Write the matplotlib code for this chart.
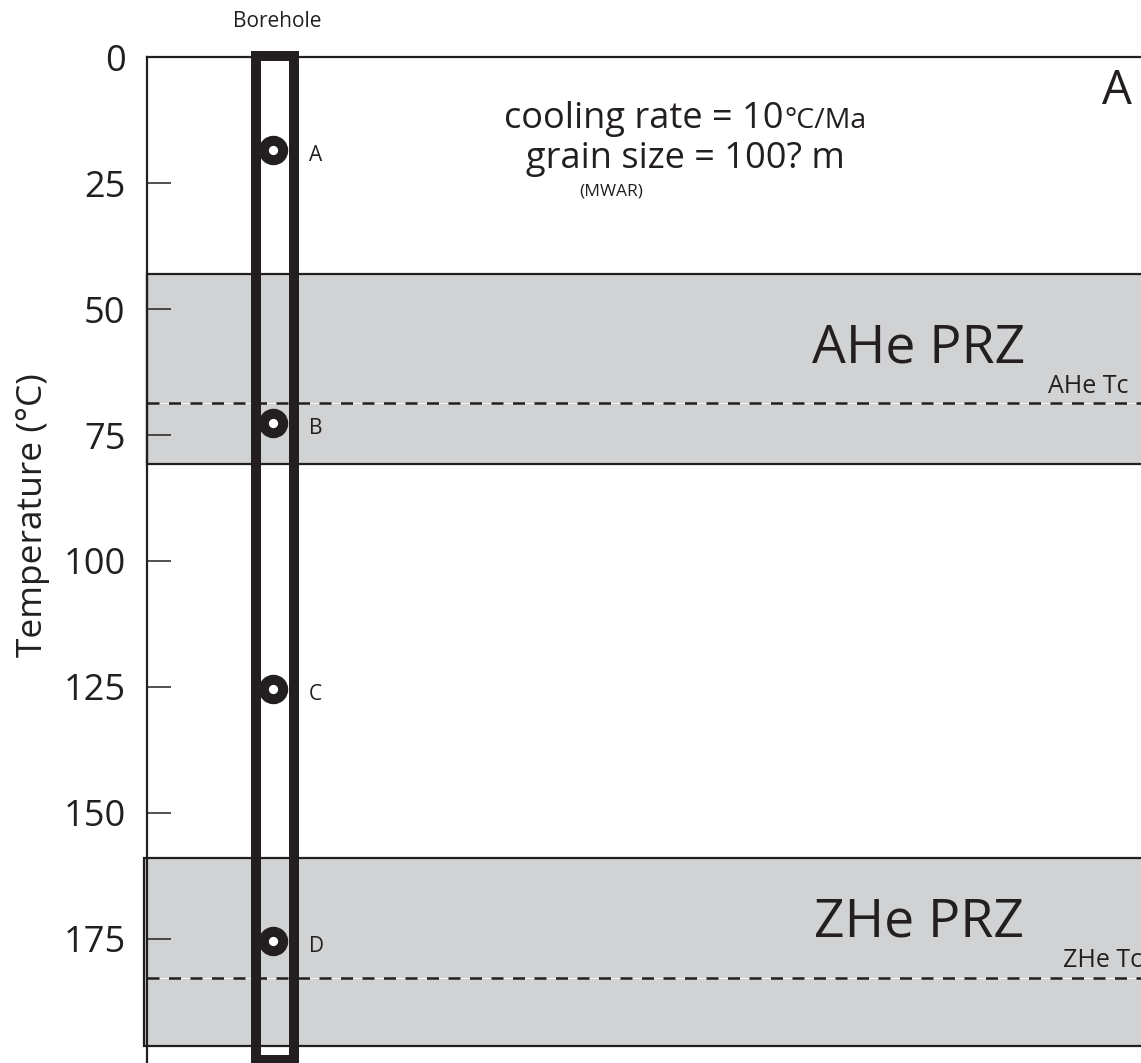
import matplotlib
matplotlib.use("Agg")
import matplotlib.pyplot as plt
from matplotlib.patches import Rectangle

plt.rcParams['font.family'] = ['Open Sans', 'DejaVu Sans']

# ---- data ----
tick_values = [0, 25, 50, 75, 100, 125, 150, 175]
sample_labels = ['A', 'B', 'C', 'D']
sample_temps = [18.4, 72.7, 125.4, 175.4]
zone_names = ['AHe PRZ', 'ZHe PRZ']
zone_top = [43.0, 159.0]
zone_bottom = [80.7, 196.3]
tc_temps = [68.6, 182.9]
tc_labels = ['AHe Tc', 'ZHe Tc']

INK = '#231f20'
GREY = '#d1d2d4'
W, H = 1141, 1063

fig = plt.figure(figsize=(W / 100, H / 100), dpi=100)
ax = fig.add_axes([147 / W, 0.0, (W - 147) / W, 1 - 57.3 / H])
ax.set_xlim(0, W - 147)
ax.set_ylim(199.7, 0)

# zones
for i, name in enumerate(zone_names):
    x0 = -3 if i == 1 else 0
    ax.add_patch(Rectangle((x0, zone_top[i]), 1200, zone_bottom[i] - zone_top[i],
                           facecolor=GREY, edgecolor=INK, lw=1.6, zorder=1, clip_on=False))
    ax.axhline(tc_temps[i], color='#f2f2f2', lw=0.8, zorder=1.9)
    ax.axhline(tc_temps[i], color=INK, lw=1.8, ls=(0, (4.8, 3.8)), zorder=2)

ax.text(772, 60.7, zone_names[0], fontsize=38.5, color=INK, ha='center', va='baseline', zorder=5)
ax.text(772, 174.5, zone_names[1], fontsize=38.5, color=INK, ha='center', va='baseline', zorder=5)
ax.text(901, 66.7, tc_labels[0], fontsize=18, color=INK, ha='left', va='baseline', zorder=5)
ax.text(916, 180.6, tc_labels[1], fontsize=18, color=INK, ha='left', va='baseline', zorder=5, clip_on=False)

# borehole
ax.add_patch(Rectangle((108.7, -0.26), 294 - 255.7, 199.4, facecolor='none',
                       edgecolor=INK, lw=7.2, zorder=3, clip_on=False, joinstyle='miter'))

# samples
ax.plot([125.7] * len(sample_temps), sample_temps, 'o', ms=14, mfc='white',
        mec=INK, mew=7.2, zorder=4, clip_on=False)
for lab, t in zip(sample_labels, sample_temps):
    ax.text(162, t + 1.1, lab, fontsize=15, color=INK, ha='left', va='center', zorder=5)

# axes styling
ax.set_yticks(tick_values)
ax.set_yticklabels([str(v) for v in tick_values])
ax.set_xticks([])
ax.tick_params(axis='y', direction='in', length=17, width=1.1, color=INK,
               labelsize=26, labelcolor=INK, pad=15.5)
for s in ['right', 'bottom']:
    ax.spines[s].set_visible(False)
for s in ['left', 'top']:
    ax.spines[s].set_color(INK)
    ax.spines[s].set_linewidth(1.6)
    ax.spines[s].set_zorder(2.5)

# annotations (figure coords from pixel positions)
def fx(x):
    return x / W

def fy(y):
    return 1 - y / H

fig.text(fx(33), fy(515), 'Temperature (°C)', rotation=90, fontsize=25.5, color=INK,
         ha='center', va='center')
fig.text(fx(277), fy(27), 'Borehole', fontsize=15, color=INK, ha='center', va='baseline')
fig.text(fx(783), fy(128), 'cooling rate = 10', fontsize=26, color=INK, ha='right', va='baseline')
fig.text(fx(784), fy(128), '°C/Ma', fontsize=20.5, color=INK, ha='left', va='baseline')
fig.text(fx(685), fy(168), 'grain size = 100? m', fontsize=26, color=INK, ha='center', va='baseline')
fig.text(fx(611), fy(191), '(MWAR)', fontsize=12.5, color=INK, ha='center', va='center')
fig.text(fx(1117), fy(91), 'A', fontsize=34, color=INK, ha='center', va='center')

fig.savefig('out.png', dpi=100)
